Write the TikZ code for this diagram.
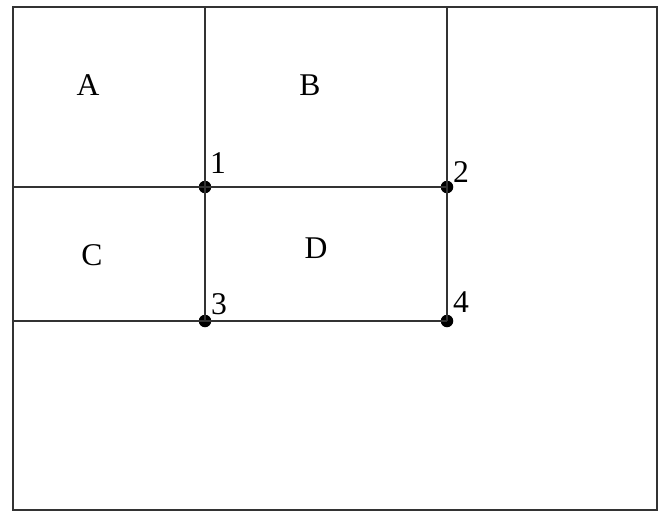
\documentclass[tikz,border=0pt]{standalone}
\usepackage{fontspec}
\setmainfont{Liberation Serif}
\usetikzlibrary{positioning}

\tikzset{
  grid/.style={line width=1.1pt, black!80},
  vertex/.style={circle, fill=black, inner sep=0pt, minimum size=2.5mm},
  region/.style={font=\fontsize{18}{21}\selectfont},
  num/.style={font=\fontsize{18}{21}\selectfont, inner sep=0pt}
}

\begin{document}
\begin{tikzpicture}[x=.02cm, y=-.02cm]
\useasboundingbox (0,0) rectangle (665,515);
\draw[grid] (13,7) rectangle (657,510);
\coordinate (t1) at (205,7);
\coordinate (t2) at (447,7);
\coordinate (l1) at (13,187);
\coordinate (l2) at (13,321);
\node[vertex] (v1) at (205,187) {};
\node[vertex] (v2) at (447,187) {};
\node[vertex] (v3) at (205,321) {};
\node[vertex] (v4) at (447,321) {};
\draw[grid] (t1) -- (v1.center) -- (v3.center);
\draw[grid] (t2) -- (v2.center) -- (v4.center);
\draw[grid] (l1) -- (v1.center) -- (v2.center);
\draw[grid] (l2) -- (v3.center) -- (v4.center);
\node[region] (A) at (88,85) {A};
\node[region] (B) at (310,85) {B};
\node[region] (C) at (92,255) {C};
\node[region] (D) at (316,248) {D};
\node[num] (n1) at (218,163) {1};
\node[num] (n2) at (461,172) {2};
\node[num] (n3) at (219,304) {3};
\node[num] (n4) at (461,302) {4};
\end{tikzpicture}
\end{document}
